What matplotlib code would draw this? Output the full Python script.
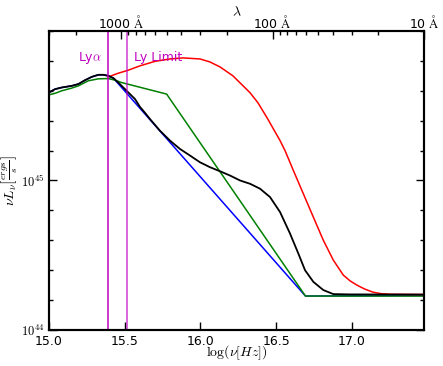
import numpy as np
import matplotlib
matplotlib.use("Agg")
import matplotlib.pyplot as plt

plt.rcParams['mathtext.fontset'] = 'cm'
plt.rcParams['font.size'] = 9

# log10(nu [Hz]) and log10(nu L_nu [erg/s])
black_x = [15.0, 15.04, 15.084, 15.15, 15.194, 15.238, 15.282, 15.326, 15.359, 15.392,
           15.425, 15.458, 15.491, 15.524, 15.568, 15.601, 15.634, 15.667, 15.733, 15.799,
           15.865, 15.931, 15.997, 16.063, 16.129, 16.196, 16.262, 16.328, 16.394, 16.46,
           16.526, 16.592, 16.647, 16.691, 16.746, 16.812, 16.878, 16.988, 17.48]
black_y = [45.589, 45.611, 45.622, 45.633, 45.645, 45.671, 45.693, 45.707, 45.707, 45.70,
           45.685, 45.655, 45.622, 45.589, 45.545, 45.492, 45.453, 45.411, 45.333, 45.267,
           45.211, 45.167, 45.122, 45.089, 45.062, 45.033, 45.0, 44.978, 44.945, 44.889,
           44.789, 44.645, 44.511, 44.40, 44.322, 44.267, 44.24, 44.238, 44.237]

blue_x = [15.0, 15.04, 15.084, 15.15, 15.194, 15.238, 15.282, 15.326, 15.359, 15.392,
          15.425, 16.694, 17.48]
blue_y = [45.589, 45.611, 45.622, 45.633, 45.645, 45.671, 45.693, 45.707, 45.707, 45.70,
          45.685, 44.227, 44.231]

green_x = [15.0, 15.04, 15.084, 15.15, 15.194, 15.26, 15.326, 15.392, 15.436, 15.48,
           15.777, 16.694, 17.48]
green_y = [45.573, 45.583, 45.60, 45.618, 45.633, 45.667, 45.68, 45.682, 45.671, 45.655,
           45.578, 44.227, 44.227]

red_x = [15.392, 15.456, 15.524, 15.601, 15.70, 15.799, 15.885, 15.997, 16.063, 16.129,
         16.215, 16.328, 16.38, 16.44, 16.526, 16.559, 16.614, 16.68, 16.746, 16.812,
         16.878, 16.944, 16.988, 17.034, 17.087, 17.14, 17.193, 17.252, 17.48]
red_y = [45.693, 45.717, 45.738, 45.767, 45.797, 45.813, 45.82, 45.813, 45.793, 45.76,
         45.70, 45.587, 45.52, 45.42, 45.267, 45.20, 45.067, 44.911, 44.755, 44.60,
         44.467, 44.367, 44.329, 44.30, 44.273, 44.253, 44.243, 44.239, 44.237]

c_ang = 2.998e18  # speed of light in Angstrom/s
lya = 1216.0
ly_limit = 912.0
lam_major = [1000, 100, 10]
lam_minor = [3000, 2000, 900, 800, 700, 600, 500, 400, 300, 200,
             90, 80, 70, 60, 50, 40, 30, 20]

fig = plt.figure(figsize=(4.43, 3.66), dpi=100)
ax = fig.add_axes([0.1106, 0.0984, 0.8465, 0.8169])

ax.plot(blue_x, blue_y, color='b', lw=1.1)
ax.plot(green_x, green_y, color='g', lw=1.1)
ax.plot(red_x, red_y, color='r', lw=1.1)
ax.plot(black_x, black_y, color='k', lw=1.3)

ax.axvline(np.log10(c_ang / lya), color='m', lw=1.1)
ax.axvline(np.log10(c_ang / ly_limit), color='m', alpha=0.6, lw=1.4)
ax.text(15.27, 45.82, r'Ly$\alpha$', color='m', ha='center', va='center', fontsize=9)
ax.text(15.56, 45.82, 'Ly Limit', color='m', ha='left', va='center', fontsize=9)

xmax = np.log10(c_ang / 10)
ax.set_xlim(15.0, xmax)
ax.set_ylim(44.0, 46.0)
ax.set_xticks([15.0, 15.5, 16.0, 16.5, 17.0])
ax.set_xticklabels(['15.0', '15.5', '16.0', '16.5', '17.0'])
ax.set_yticks([44, 45])
ax.set_yticklabels([r'$10^{44}$', r'$10^{45}$'])
ax.set_yticks(np.arange(44.0, 46.01, 0.2), minor=True)
ax.tick_params(which='both', direction='in', right=True, top=False, width=1)
ax.tick_params(which='major', length=6)
ax.tick_params(which='minor', length=3)
ax.set_xlabel(r'$\log(\nu[Hz])$', fontsize=10)
ax.xaxis.set_label_coords(0.5, -0.045)
ax.set_ylabel(r'$\nu L_\nu \left[\frac{ergs}{s}\right]$', fontsize=10)
ax.yaxis.set_label_coords(-0.08, 0.5)
for s in ax.spines.values():
    s.set_linewidth(1.5)

top = ax.twiny()
top.set_xlim(ax.get_xlim())
top.set_xticks([np.log10(c_ang / l) for l in lam_major])
top.set_xticklabels([r'%d $\mathrm{Å}$' % l for l in lam_major])
top.set_xticks([np.log10(c_ang / l) for l in lam_minor], minor=True)
top.tick_params(which='both', direction='in', pad=0)
top.tick_params(which='major', length=6, width=1)
top.tick_params(which='minor', length=3, width=1)
top.set_xlabel(r'$\lambda$', fontsize=10)
top.xaxis.set_label_coords(0.5, 1.05)
for s in top.spines.values():
    s.set_linewidth(1.5)

fig.savefig('out.png', dpi=100)
